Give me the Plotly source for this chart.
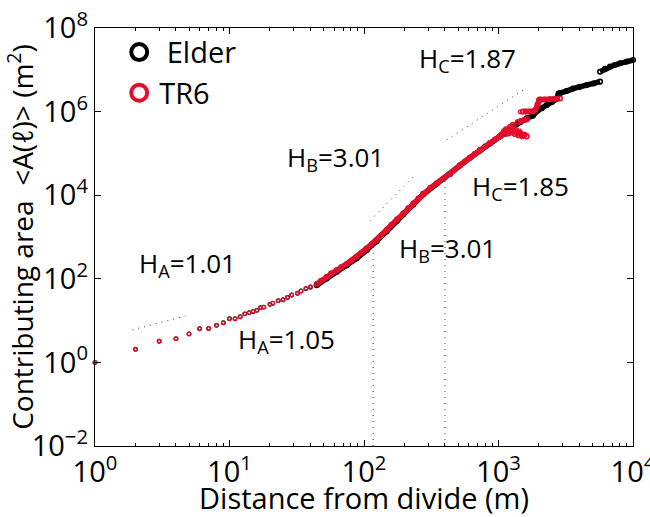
import plotly.graph_objects as go

# ---------------- data ----------------
# TR6: isolated points at short distances (open circles)
tr6_pts_x = [1, 2, 3, 4, 5, 6, 7, 8, 9, 10, 11, 12, 13, 14, 15, 16, 17, 18, 20, 21,
             23, 25, 27, 29, 32, 34, 37, 40, 44.5, 48, 1450]
tr6_pts_y = [1.0, 2.06, 3.2, 3.7, 4.8, 6.4, 6.5, 7.7, 8.9, 11.1, 11.1, 12.4, 14.5, 15.5,
             16.6, 17.6, 20.4, 21, 24.5, 26, 30, 31.6, 36, 41, 45, 51, 59, 65, 75, 90, 9.8e5]

# TR6: dense part of the curve (points overlap into a band)
tr6_x = [44.5, 48, 52.8, 57, 62.7, 68, 74.3, 81, 88.3, 96, 105, 114, 124, 135,
         147, 160, 176, 196, 214, 233, 254, 276, 310, 347, 390, 436, 475, 517, 565, 614,
         668, 728, 795, 865, 940, 1026, 1050, 1100, 1130, 1160, 1190, 1220, 1250, 1280,
         1320, 1360, 1400, 1450, 1500, 1560, 1620,
         None, 1390, 1480, 1560, 1630,
         None, 1520, 1600, 1700, 1800, 1880, 1950, 2000, 2036, 2200, 2400, 2600, 2870]
tr6_y = [75, 90, 112, 135, 162, 192, 226, 275, 338, 420, 537, 680, 850, 1100,
         1470, 1950, 2650, 3690, 4900, 6400, 8400, 11000, 14800, 19300, 25000, 32500,
         41000, 52000, 65000, 80000, 98000, 120000, 148000, 178000, 215000, 255000,
         2.8e5, 3.4e5, 2.9e5, 3.8e5, 3.0e5, 4.3e5, 3.2e5, 4.8e5, 2.9e5, 3.6e5, 2.7e5,
         3.1e5, 2.6e5, 2.8e5, 2.55e5,
         None, 5.6e5, 6.0e5, 6.3e5, 6.6e5,
         None, 1.0e6, 1.0e6, 1.0e6, 1.02e6, 1.1e6, 1.5e6, 1.9e6, 1.95e6, 1.95e6, 1.97e6,
         2.0e6, 2.05e6]

# Elder: isolated points at short distances (mostly hidden under TR6)
elder_pts_x = [1, 2, 3, 4, 5, 6, 7, 8, 9, 10, 11, 12, 13, 14, 15, 16, 17, 18, 20, 21,
               23, 25, 27, 29, 32, 34, 37, 40]
elder_pts_y = [1.0, 2.06, 3.2, 3.7, 4.8, 6.4, 6.5, 7.7, 8.9, 11.1, 11.1, 12.4, 14.5, 15.5,
               16.6, 17.6, 20.4, 21, 24.5, 26, 30, 31.6, 36, 41, 45, 51, 58, 63]

# Elder: dense part of the curve
elder_x = [44.5, 52.8, 62.7, 74.3, 88.3, 105, 124, 147, 176, 196, 233, 276, 347,
           436, 517, 614, 728, 865, 1026, 1150, 1282, 1450, 1622, 1800, 1950, 2100, 2281,
           2500, 2700, 2800, 2866, 3200, 3580, 4000, 4530, 5100, 5690,
           None, 5690, 6200, 6740, 7300, 8000, 9000, 10000]
elder_y = [70, 102, 148, 208, 310, 490, 780, 1350, 2450, 3500, 6000, 10500, 18800,
           32000, 51000, 79000, 118000, 175000, 255000, 330000, 435000, 560000, 690000,
           800000, 1.05e6, 1.2e6, 1.44e6, 1.7e6, 2.0e6, 2.7e6, 2.75e6, 3.1e6, 3.55e6,
           3.9e6, 4.3e6, 4.7e6, 5.2e6,
           None, 9.0e6, 1.05e7, 1.19e7, 1.3e7, 1.43e7, 1.58e7, 1.71e7]

# dotted fit guides
guide_a_x = [1.9, 4.7]
guide_a_y = [6.0, 12.9]
guide_b_x = [111, 233]
guide_b_y = [2460, 27700]
guide_c_x = [412, 1528]
guide_c_y = [2.09e5, 3.3e6]
# dotted vertical break lines
vline1_x = [117, 117]
vline1_y = [0.01, 780]
vline2_x = [400, 400]
vline2_y = [0.01, 27200]

# axis ticks
x_tickvals = [1, 10, 100, 1000, 10000]
x_ticktext = ["10<sup>0</sup>", "10<sup>1</sup>", "10<sup>2</sup>", "10<sup>3</sup>", "10<sup>4</sup>"]
y_tickvals = [1e-2, 1, 1e2, 1e4, 1e6, 1e8]
y_ticktext = ["10<sup>−2</sup>", "10<sup>0</sup>", "10<sup>2</sup>", "10<sup>4</sup>",
              "10<sup>6</sup>", "10<sup>8</sup>"]

# ---------------- styling ----------------
RED = "#E0102D"
BLACK = "#000000"
GUIDE = "#3a3a3a"
FONT = "Open Sans, sans-serif"

fig = go.Figure()

def band(x, y, color):
    return go.Scatter(x=x, y=y, mode="lines+markers", connectgaps=False, cliponaxis=False,
                      line=dict(color=color, width=5.5),
                      marker=dict(symbol="circle-open", size=4.5, color=color,
                                  line=dict(width=1.6, color=color)),
                      showlegend=False, hoverinfo="skip")

def dots(x, y, color):
    return go.Scatter(x=x, y=y, mode="markers", cliponaxis=False,
                      marker=dict(symbol="circle-open", size=3.6, color=color,
                                  line=dict(width=1.3, color=color)),
                      showlegend=False, hoverinfo="skip")

# Elder (drawn first, underneath)
fig.add_trace(band(elder_x, elder_y, BLACK))
fig.add_trace(dots(elder_pts_x, elder_pts_y, BLACK))
# TR6
fig.add_trace(band(tr6_x, tr6_y, RED))
fig.add_trace(dots(tr6_pts_x, tr6_pts_y, RED))

# guides
for gx, gy in [(guide_a_x, guide_a_y), (guide_b_x, guide_b_y), (guide_c_x, guide_c_y),
               (vline1_x, vline1_y), (vline2_x, vline2_y)]:
    fig.add_trace(go.Scatter(x=gx, y=gy, mode="lines",
                             line=dict(color=GUIDE, width=1, dash="1px,5px"),
                             showlegend=False, hoverinfo="skip"))

# legend-only entries
fig.add_trace(go.Scatter(x=[None], y=[None], mode="markers", name="\u00a0Elder",
                         marker=dict(symbol="circle-open", size=16, color=BLACK,
                                     line=dict(width=4, color=BLACK))))
fig.add_trace(go.Scatter(x=[None], y=[None], mode="markers", name="TR6",
                         marker=dict(symbol="circle-open", size=16, color=RED,
                                     line=dict(width=4, color=RED))))

minor_x = [m * 10 ** d for d in range(0, 4) for m in range(2, 10)]

fig.update_layout(
    width=650, height=517,
    margin=dict(l=95, r=17, t=28, b=71, autoexpand=False),
    paper_bgcolor="white", plot_bgcolor="white",
    font=dict(family=FONT, size=29, color="black"),
    showlegend=True,
    legend=dict(x=0.045, y=1.003, xanchor="left", yanchor="top",
                bgcolor="rgba(0,0,0,0)", borderwidth=0,
                font=dict(family=FONT, size=29, color="black"),
                itemclick=False, itemdoubleclick=False, tracegroupgap=0),
    xaxis=dict(type="log", range=[0, 4], tickvals=x_tickvals, ticktext=x_ticktext,
               automargin=False,
               ticks="inside", ticklen=6, tickwidth=1, tickcolor="black",
               ticklabeloverflow="allow",
               minor=dict(tickvals=minor_x, ticks="inside", ticklen=3, tickwidth=1,
                          tickcolor="black", showgrid=False),
               showgrid=False, zeroline=False, showline=True, linecolor="black",
               linewidth=1.3, mirror="allticks",
               tickfont=dict(family=FONT, size=29, color="black"),
               title=dict(text="Distance from divide (m)", standoff=4,
                          font=dict(family=FONT, size=29, color="black"))),
    yaxis=dict(type="log", range=[-2, 8], tickvals=y_tickvals, ticktext=y_ticktext,
               automargin=False,
               ticks="inside", ticklen=6, tickwidth=1, tickcolor="black",
               ticklabeloverflow="allow",
               showgrid=False, zeroline=False, showline=True, linecolor="black",
               linewidth=1.3, mirror="allticks",
               tickfont=dict(family=FONT, size=29, color="black"),
               title=dict(text="Contributing area  <A(ℓ)> (m<sup>2</sup>)", standoff=2,
                          font=dict(family=FONT, size=28, color="black"))),
)

ann_font = dict(family=FONT, size=26, color="black")
annotations = [
    ("H<sub>A</sub>=1.01", 0.312, 2.354),
    ("H<sub>A</sub>=1.05", 1.048, 0.536),
    ("H<sub>B</sub>=3.01", 1.413, 4.89),
    ("H<sub>B</sub>=3.01", 2.245, 2.713),
    ("H<sub>C</sub>=1.85", 2.788, 4.196),
    ("H<sub>C</sub>=1.87", 2.394, 7.25),
]
for text, ax_, ay_ in annotations:
    fig.add_annotation(text=text, x=ax_, y=ay_, xref="x", yref="y", showarrow=False,
                       xanchor="left", yanchor="middle", font=ann_font)

fig.write_html("out.html")
